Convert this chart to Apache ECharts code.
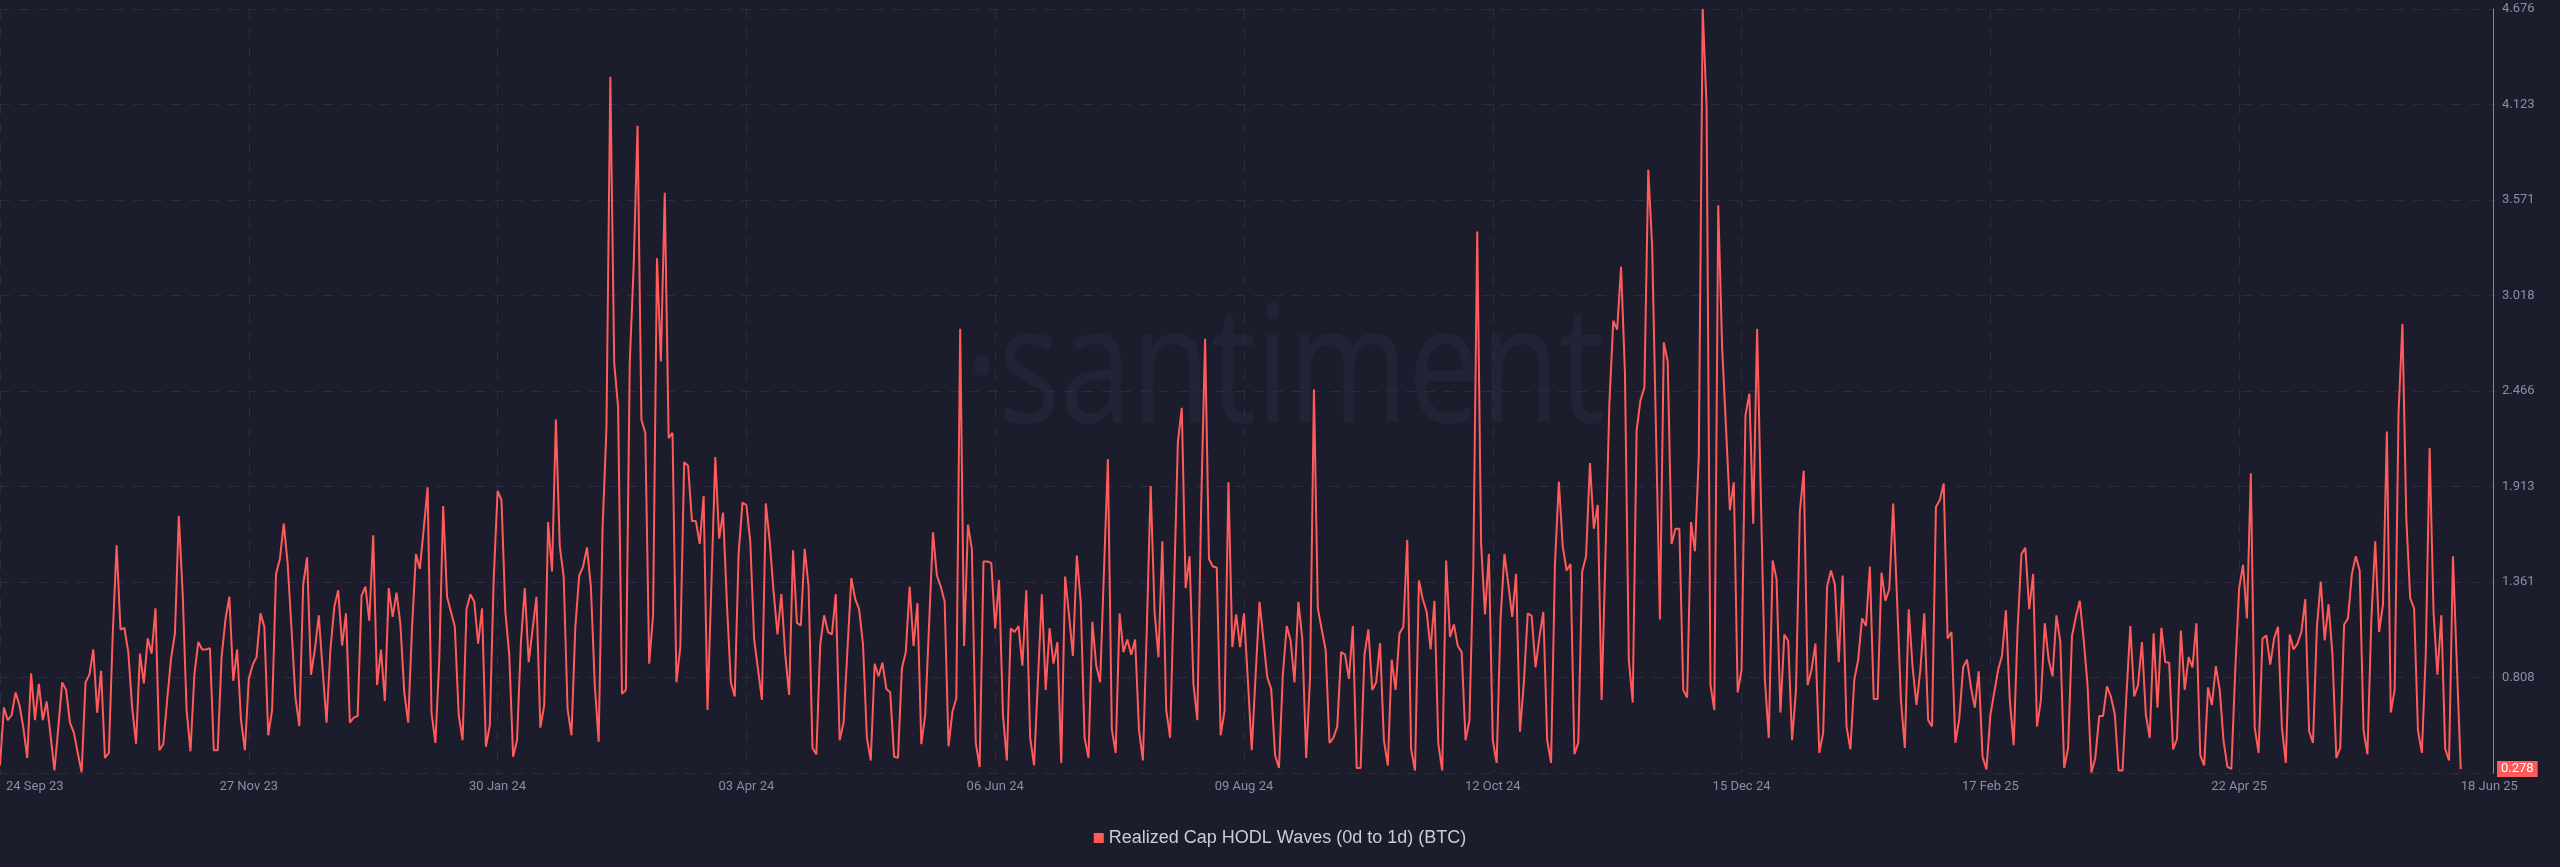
<!DOCTYPE html>
<html><head><meta charset="utf-8">
<script src="https://cdn.jsdelivr.net/npm/echarts@6/dist/echarts.min.js"></script>
<style>html,body{margin:0;padding:0;background:#1b1d2c;}#chart{width:2560px;height:867px;}</style>
</head><body><div id="chart"></div>
<script>
const seriesName = 'Realized Cap HODL Waves (0d to 1d) (BTC)';
const startDate = '2023-09-24';

// Daily values, 24 Sep 2023 .. 31 Dec 2023
const values2023 = [
0.299,0.634,0.561,0.591,0.722,0.649,0.518,0.343,0.832,0.561,
0.771,0.561,0.669,0.474,0.270,0.518,0.780,0.736,0.547,0.489,
0.372,0.260,0.780,0.824,0.970,0.605,0.847,0.343,0.372,1.057,
1.573,1.086,1.095,0.955,0.634,0.425,0.946,0.774,1.034,0.946,
1.208,0.387,0.422,0.678,0.917,1.063,1.742,1.290,0.620,0.381,
0.824,1.013,0.970,0.970,0.978,0.387,0.387,0.926,1.144,1.275,
0.789,0.970,0.561,0.387,0.800,0.882,0.926,1.179,1.101,0.474,
0.620,1.407,1.494,1.698,1.465,1.086,0.693,0.527,1.348,1.503,
0.824,0.970,1.168,0.853,0.547,0.970,1.217,1.313,0.993,1.179,
0.547,0.576,0.585,1.281,1.334,1.136,1.631,0.765,0.970
];
// Daily values, 1 Jan 2024 .. 31 Dec 2024
const values2024 = [
0.672,
1.325,1.159,1.299,1.115,0.722,0.547,1.101,1.523,1.436,1.669,
1.908,0.605,0.430,0.911,1.800,1.275,1.188,1.101,0.591,0.445,
1.203,1.290,1.246,1.004,1.208,0.407,0.532,1.377,1.887,1.835,
1.188,0.940,0.349,0.445,1.013,1.325,0.897,1.086,1.275,0.518,
0.649,1.707,1.421,2.301,1.567,1.392,0.626,0.474,1.101,1.398,
1.450,1.561,1.334,0.765,0.436,1.669,2.252,4.283,2.625,2.374,
0.713,0.736,2.630,3.184,4.000,2.301,2.223,0.888,1.168,3.234,
2.636,3.612,2.193,2.223,0.780,0.984,2.054,2.033,1.713,1.713,
1.581,1.858,0.620,1.348,2.083,1.611,1.762,1.232,0.780,0.698,
1.523,1.820,1.806,1.596,1.028,0.853,0.678,1.815,1.596,1.305,
1.057,1.290,0.940,0.707,1.544,1.124,1.109,1.552,1.334,0.401,
0.363,0.999,1.168,1.071,1.057,1.290,0.445,0.547,0.970,1.383,
1.261,1.203,0.999,0.459,0.328,0.888,0.815,0.894,0.742,0.722,
0.349,0.343,0.860,0.955,1.334,0.990,1.238,0.422,0.591,1.115,
1.648,1.398,1.334,1.246,0.410,0.611,0.687,2.826,0.990,1.692,
1.552,0.430,0.290,1.479,1.479,1.471,1.092,1.372,0.591,0.328,
1.092,1.071,1.106,0.876,1.313,0.459,0.299,0.795,1.290,0.736,
1.092,0.888,1.013,0.314,1.392,1.168,0.932,1.514,1.246,0.459,
0.343,1.130,0.876,0.780,1.436,2.071,0.509,0.372,1.179,0.955,
1.028,0.940,1.028,0.503,0.328,1.086,1.916,1.188,0.926,1.596,
0.620,0.459,1.319,2.170,2.368,1.325,1.509,0.771,0.561,1.815,
2.767,1.494,1.450,1.444,0.474,0.614,1.937,0.984,1.173,0.984,
1.179,0.795,0.387,0.824,1.246,1.028,0.809,0.742,0.358,0.285,
0.824,1.106,1.022,0.780,1.246,1.034,0.343,0.809,2.476,1.208,
1.086,0.970,0.430,0.459,0.524,0.955,0.940,0.800,1.106,0.285,
0.285,0.940,1.086,0.736,0.780,1.007,0.445,0.299,0.911,0.736,
1.063,1.101,1.605,0.392,0.270,1.369,1.261,1.188,0.970,1.252,
0.422,0.270,1.485,1.042,1.115,0.990,0.955,0.445,0.561,1.450,
3.388,1.581,1.173,1.523,0.445,0.314,1.144,1.523,1.348,1.159,
1.407,0.494,0.780,1.179,1.165,0.867,1.042,1.188,0.445,0.314,
1.465,1.940,1.567,1.427,1.465,0.365,0.430,1.421,1.509,2.048,
1.669,1.806,0.678,1.523,2.397,2.872,2.820,3.184,2.572,0.911,
0.663,2.237,2.412,2.485,3.746,3.301,2.222,1.144,2.747,2.636,
1.581,1.669,1.669,0.736,0.692,1.707,1.538,2.091,4.676,4.116,
0.765,0.620,3.540,2.718,2.252,1.777,1.937,0.722,0.853,2.324,
2.450,1.698,2.826,1.815,0.795,0.459,1.485,1.377,0.605,1.057,
1.019,0.445,0.736,1.771,2.004
];
// Daily values, 1 Jan 2025 .. 18 Jun 2025
const values2025 = [
0.765,0.853,1.004,0.372,0.489,1.334,1.427,1.348,0.897,1.398,
0.524,0.392,0.795,0.911,1.150,1.106,1.450,0.684,0.684,1.415,
1.252,1.319,1.815,1.261,0.678,0.401,1.203,0.867,0.649,0.853,
1.179,0.561,0.524,1.794,1.835,1.931,1.034,1.071,0.430,0.567,
0.867,0.911,0.751,0.634,0.844,0.349,0.276,0.591,0.722,0.853,
0.934,1.197,0.678,0.416,1.086,1.523,1.558,1.203,1.407,0.524,
0.678,1.121,0.911,0.815,1.168,1.013,0.285,0.401,1.048,1.159,
1.252,1.028,0.765,0.258,0.343,0.585,0.585,0.757,0.698,0.597,
0.270,0.270,0.707,1.106,0.698,0.765,1.013,0.591,0.459,1.063,
0.634,1.095,0.897,0.894,0.392,0.451,1.080,0.736,0.926,0.867,
1.121,0.358,0.299,0.751,0.649,0.873,0.736,0.439,0.291,0.279,
0.853,1.325,1.460,1.150,1.989,0.518,0.372,1.034,1.051,0.882,
1.034,1.101,0.518,0.314,1.057,0.970,1.004,1.071,1.261,0.497,
0.430,1.101,1.363,1.022,1.232,0.940,0.343,0.401,1.115,1.150,
1.407,1.509,1.427,0.503,0.363,1.144,1.596,1.071,1.232,2.231,
0.605,0.736,2.339,2.855,1.727,1.267,1.208,0.503,0.372,0.940,
2.135,1.188,0.824,1.168,0.395,0.328,1.509,0.882,0.278
];

const tickDates = ['2023-09-24','2023-11-27','2024-01-30','2024-04-03','2024-06-06','2024-08-09','2024-10-12','2024-12-15','2025-02-17','2025-04-22','2025-06-18'];
const tickLabels = ['24 Sep 23','27 Nov 23','30 Jan 24','03 Apr 24','06 Jun 24','09 Aug 24','12 Oct 24','15 Dec 24','17 Feb 25','22 Apr 25','18 Jun 25'];

const yMin = 0.2555, yMax = 4.6755, yStep = 0.5525;

const DAY = 86400000;
const t0 = Date.parse(startDate + 'T00:00:00Z');
const values = values2023.concat(values2024, values2025);
const data = values.map((v, i) => [i, v]);
const lastIdx = values.length - 1;
const lastValue = values[lastIdx];
const tickDays = tickDates.map(d => Math.round((Date.parse(d + 'T00:00:00Z') - t0) / DAY));
const labelByDay = {};
tickDays.forEach((d, i) => { labelByDay[d] = tickLabels[i]; });

const RED = '#ff5b5b';
const FONT = 'Roboto, "Liberation Sans", Arial, sans-serif';
const GRID_C = '#2a2d40';
const LABEL_C = '#8a8ea2';

const chart = echarts.init(document.getElementById('chart'), null, {renderer: 'canvas'});
chart.setOption({
  backgroundColor: '#1b1d2c',
  animation: false,
  textStyle: {fontFamily: FONT},
  grid: {left: 0, right: 67, top: 9, bottom: 94, containLabel: false},
  graphic: [{
    type: 'text', x: 1285, y: 376, scaleX: 0.79, z: 0, silent: true,
    style: {text: '\u00b7santiment', fontSize: 163, fontFamily: '"Open Sans", sans-serif',
            fill: 'rgba(120,130,170,0.075)', align: 'center', verticalAlign: 'middle'}
  }],
  legend: {
    show: true, left: 'center', top: 824, icon: 'rect', itemWidth: 10, itemHeight: 10, itemGap: 10,
    textStyle: {color: '#c9ccd8', fontSize: 18, fontFamily: '"Liberation Sans", Arial, sans-serif'},
    data: [seriesName]
  },
  xAxis: {
    type: 'value', min: 0, max: lastIdx + 8.3,
    axisLine: {show: false}, axisTick: {show: false, customValues: tickDays.slice(0, -1)},
    splitLine: {show: true, lineStyle: {color: GRID_C, type: [10, 9], width: 1}},
    axisLabel: {
      customValues: tickDays, color: LABEL_C, fontSize: 13, margin: 7, fontFamily: FONT,
      alignMinLabel: 'left', alignMaxLabel: 'left',
      formatter: v => {
        const d = Math.round(v);
        const s = labelByDay[d] || '';
        return d === tickDays[0] ? '{first|' + s + '}' : s;
      },
      rich: {first: {padding: [0, 0, 0, 6], color: LABEL_C, fontSize: 13, fontFamily: FONT}}
    }
  },
  yAxis: [{
    type: 'value', position: 'right', min: yMin, max: yMax, interval: yStep,
    axisLine: {show: true, onZero: false, lineStyle: {color: RED, width: 1}},
    axisTick: {show: false},
    splitLine: {show: true, lineStyle: {color: GRID_C, type: [10, 9], width: 1}},
    axisLabel: {
      color: LABEL_C, fontSize: 13, margin: 9, fontFamily: FONT, showMinLabel: false,
      formatter: v => (v + 1e-6).toFixed(3)
    }
  }, {
    // last-value marker on the right axis
    type: 'value', position: 'right', min: yMin, max: yMax,
    axisLine: {show: false, onZero: false}, axisTick: {show: false}, splitLine: {show: false},
    axisLabel: {
      customValues: [lastValue], showMinLabel: true, showMaxLabel: true, margin: 4,
      color: '#ffffff', backgroundColor: RED, padding: [2, 4, 1, 4], fontSize: 13, fontFamily: FONT,
      formatter: v => v.toFixed(3)
    }
  }],
  series: [{
    name: seriesName, type: 'line', data: data, showSymbol: false, symbol: 'none',
    yAxisIndex: 0,
    lineStyle: {color: RED, width: 2}, itemStyle: {color: RED},
    emphasis: {disabled: true}, z: 3
  }]
});
</script></body></html>
